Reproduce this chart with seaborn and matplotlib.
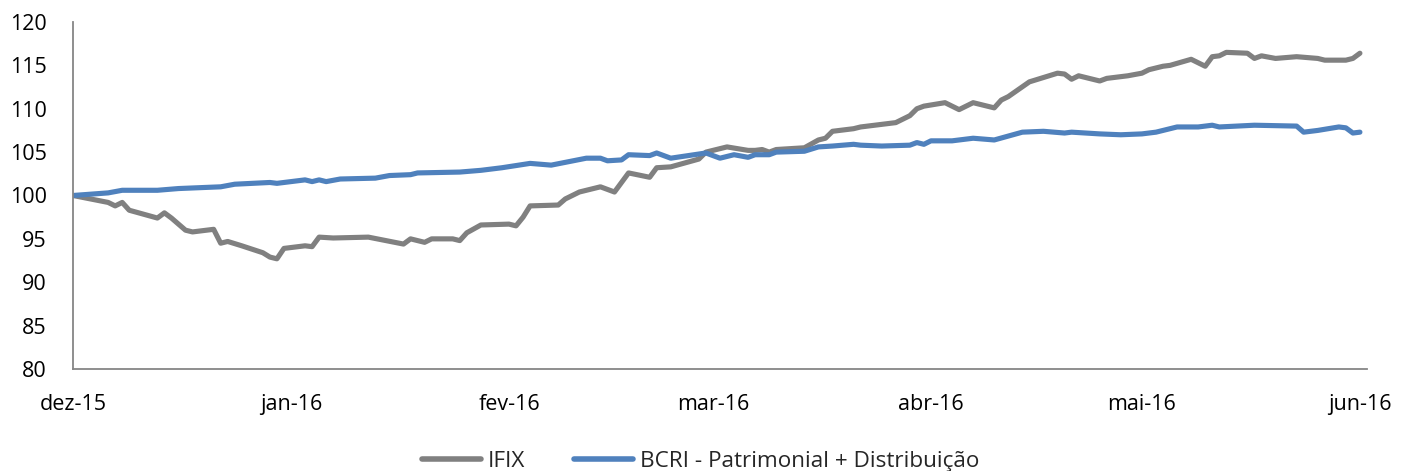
import pandas as pd
import matplotlib
matplotlib.use("Agg")
import matplotlib.pyplot as plt
import seaborn as sns

# valores
ifix_dates = ["2015-12-01", "2015-12-06", "2015-12-07", "2015-12-08", "2015-12-09", "2015-12-13",
              "2015-12-14", "2015-12-15", "2015-12-17", "2015-12-18", "2015-12-21", "2015-12-22",
              "2015-12-23", "2015-12-25", "2015-12-28", "2015-12-29", "2015-12-30", "2015-12-31",
              "2016-01-03", "2016-01-04", "2016-01-05", "2016-01-07", "2016-01-12", "2016-01-17",
              "2016-01-18", "2016-01-20", "2016-01-21", "2016-01-24", "2016-01-25", "2016-01-26",
              "2016-01-28", "2016-02-01", "2016-02-02", "2016-02-03", "2016-02-04", "2016-02-08",
              "2016-02-09", "2016-02-11", "2016-02-14", "2016-02-16", "2016-02-18", "2016-02-21",
              "2016-02-22", "2016-02-24", "2016-02-28", "2016-02-29", "2016-03-03", "2016-03-06",
              "2016-03-07", "2016-03-08", "2016-03-09", "2016-03-10", "2016-03-14", "2016-03-16",
              "2016-03-17", "2016-03-18", "2016-03-21", "2016-03-22", "2016-03-27", "2016-03-29",
              "2016-03-30", "2016-03-31", "2016-04-03", "2016-04-05", "2016-04-07", "2016-04-10",
              "2016-04-11", "2016-04-12", "2016-04-15", "2016-04-19", "2016-04-20", "2016-04-21",
              "2016-04-22", "2016-04-25", "2016-04-26", "2016-04-29", "2016-05-01", "2016-05-02",
              "2016-05-04", "2016-05-05", "2016-05-08", "2016-05-10", "2016-05-11", "2016-05-12",
              "2016-05-13", "2016-05-16", "2016-05-17", "2016-05-18", "2016-05-20", "2016-05-23",
              "2016-05-26", "2016-05-27", "2016-05-30", "2016-05-31", "2016-06-01"]
ifix_values = [100.0, 99.2, 98.8, 99.2, 98.3, 97.4,
               98.0, 97.4, 96.0, 95.8, 96.1, 94.5,
               94.7, 94.2, 93.4, 92.9, 92.7, 93.9,
               94.2, 94.1, 95.2, 95.1, 95.2, 94.4,
               95.0, 94.6, 95.0, 95.0, 94.8, 95.7,
               96.6, 96.7, 96.5, 97.5, 98.8, 98.9,
               99.6, 100.4, 101.0, 100.4, 102.6, 102.1,
               103.2, 103.3, 104.2, 105.0, 105.6, 105.2,
               105.2, 105.3, 105.0, 105.3, 105.5, 106.4,
               106.6, 107.4, 107.7, 107.9, 108.4, 109.2,
               110.0, 110.3, 110.7, 109.9, 110.7, 110.1,
               111.0, 111.4, 113.1, 114.1, 114.0, 113.4,
               113.8, 113.2, 113.5, 113.8, 114.1, 114.5,
               114.9, 115.0, 115.7, 114.9, 116.0, 116.1,
               116.5, 116.4, 115.8, 116.1, 115.8, 116.0,
               115.8, 115.6, 115.6, 115.8, 116.4]

bcri_dates = ["2015-12-01", "2015-12-06", "2015-12-08", "2015-12-13", "2015-12-16", "2015-12-22",
              "2015-12-24", "2015-12-29", "2015-12-30", "2016-01-03", "2016-01-04", "2016-01-05",
              "2016-01-06", "2016-01-08", "2016-01-13", "2016-01-15", "2016-01-18", "2016-01-19",
              "2016-01-25", "2016-01-28", "2016-01-31", "2016-02-04", "2016-02-07", "2016-02-12",
              "2016-02-14", "2016-02-15", "2016-02-17", "2016-02-18", "2016-02-21", "2016-02-22",
              "2016-02-24", "2016-02-29", "2016-03-02", "2016-03-04", "2016-03-06", "2016-03-07",
              "2016-03-09", "2016-03-10", "2016-03-14", "2016-03-16", "2016-03-18", "2016-03-21",
              "2016-03-22", "2016-03-25", "2016-03-29", "2016-03-30", "2016-03-31", "2016-04-01",
              "2016-04-04", "2016-04-07", "2016-04-10", "2016-04-14", "2016-04-17", "2016-04-20",
              "2016-04-21", "2016-04-25", "2016-04-28", "2016-05-01", "2016-05-03", "2016-05-06",
              "2016-05-09", "2016-05-11", "2016-05-12", "2016-05-17", "2016-05-23", "2016-05-24",
              "2016-05-26", "2016-05-29", "2016-05-30", "2016-05-31", "2016-06-01"]
bcri_values = [100.0, 100.3, 100.6, 100.6, 100.8, 101.0,
               101.3, 101.5, 101.4, 101.8, 101.6, 101.8,
               101.6, 101.9, 102.0, 102.3, 102.4, 102.6,
               102.7, 102.9, 103.2, 103.7, 103.5, 104.3,
               104.3, 104.0, 104.1, 104.7, 104.6, 104.9,
               104.3, 104.9, 104.3, 104.7, 104.4, 104.7,
               104.7, 105.0, 105.1, 105.6, 105.7, 105.9,
               105.8, 105.7, 105.8, 106.1, 105.9, 106.3,
               106.3, 106.6, 106.4, 107.3, 107.4, 107.2,
               107.3, 107.1, 107.0, 107.1, 107.3, 107.9,
               107.9, 108.1, 107.9, 108.1, 108.0, 107.3,
               107.5, 107.9, 107.8, 107.2, 107.3]

series_names = ["IFIX", "BCRI - Patrimonial + Distribuição"]
tick_dates = ["2015-12-01", "2016-01-01", "2016-02-01", "2016-03-01",
              "2016-04-01", "2016-05-01", "2016-06-01"]
tick_labels = ["dez-15", "jan-16", "fev-16", "mar-16", "abr-16", "mai-16", "jun-16"]

df = pd.concat([
    pd.DataFrame({"data": pd.to_datetime(ifix_dates), "valor": ifix_values, "serie": series_names[0]}),
    pd.DataFrame({"data": pd.to_datetime(bcri_dates), "valor": bcri_values, "serie": series_names[1]}),
])

sns.set_style("white")
plt.rcParams['font.family'] = ['Open Sans', 'DejaVu Sans']

fig = plt.figure(figsize=(14.01, 4.71), dpi=100)
ax = fig.add_axes([0.0521, 0.2166, 0.9236, 0.7367])

sns.lineplot(data=df, x="data", y="valor", hue="serie",
             palette=["#808080", "#4F81BD"], linewidth=3.7, ax=ax)
for ln in ax.get_lines():
    ln.set_solid_capstyle("round")
    ln.set_solid_joinstyle("round")

ax.set_xlim(pd.Timestamp("2015-12-01"), pd.Timestamp("2016-06-02"))
ax.set_ylim(80, 120)
ax.set_yticks(range(80, 121, 5))
ax.set_xticks(pd.to_datetime(tick_dates))
ax.set_xticklabels(tick_labels)
ax.set_xlabel("")
ax.set_ylabel("")

for side in ["top", "right"]:
    ax.spines[side].set_visible(False)
for side in ["left", "bottom"]:
    ax.spines[side].set_color("#868686")
    ax.spines[side].set_linewidth(1.3)

ax.tick_params(axis="both", which="major", length=7, width=1.3, color="#868686",
               labelsize=15.5, labelcolor="black", direction="out")
ax.tick_params(axis="y", pad=12)
ax.tick_params(axis="x", pad=11)

sns.move_legend(ax, "lower center", bbox_to_anchor=(0.5, -0.045),
                bbox_transform=fig.transFigure, ncol=2, frameon=False,
                title=None, fontsize=16.2, handlelength=2.6, columnspacing=2.2,
                handletextpad=0.3)
for h in ax.get_legend().get_lines():
    h.set_linewidth(4)

fig.savefig("out.png", dpi=100)
